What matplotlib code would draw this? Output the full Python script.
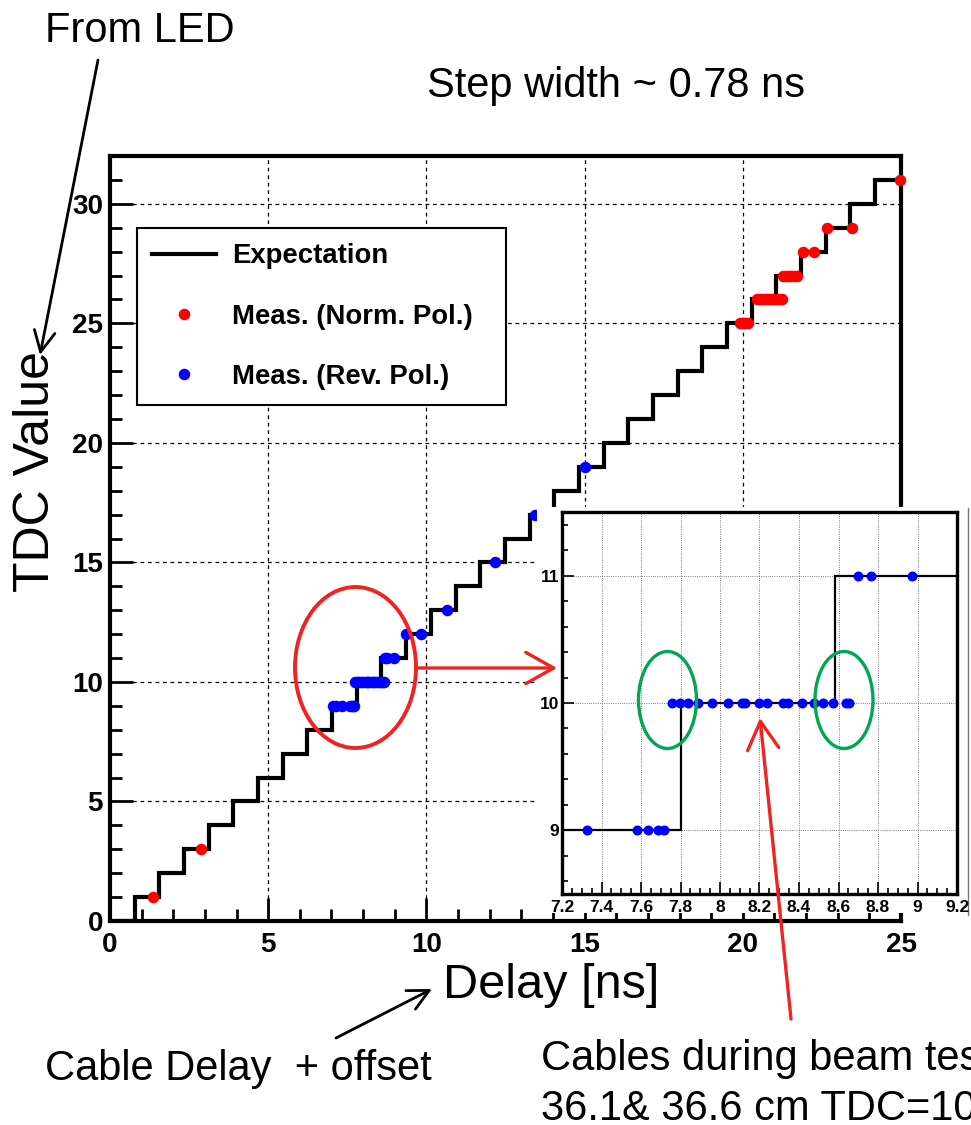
import matplotlib.pyplot as plt
from matplotlib.patches import Ellipse, FancyArrowPatch, Rectangle
from matplotlib.lines import Line2D
from matplotlib.ticker import MultipleLocator, FormatStrFormatter

plt.rcParams['font.family'] = ['Liberation Sans', 'DejaVu Sans']

# expectation: step edges [ns] and TDC level on each step
step_edges = [0.0, 0.78, 1.56, 2.34, 3.12, 3.90, 4.68, 5.46, 6.24, 7.02, 7.80,
              8.58, 9.36, 10.14, 10.92, 11.70, 12.48, 13.26, 14.04, 14.82,
              15.60, 16.38, 17.16, 17.94, 18.72, 19.50, 20.28, 21.06, 21.84,
              22.62, 23.40, 24.18, 25.0]
tdc_levels = [0, 1, 2, 3, 4, 5, 6, 7, 8, 9, 10, 11, 12, 13, 14, 15, 16, 17,
              18, 19, 20, 21, 22, 23, 24, 25, 26, 27, 28, 29, 30, 31]

# measurements, normal polarity
norm_delay = [1.37, 2.875,
              19.91, 20.00, 20.08, 20.17,
              20.46, 20.55, 20.63, 20.72, 20.80, 20.88, 20.97, 21.05, 21.14, 21.24,
              21.27, 21.36, 21.45, 21.53, 21.62, 21.70,
              21.89, 22.25, 22.66, 23.46, 24.96]
norm_tdc = [1, 3,
            25, 25, 25, 25,
            26, 26, 26, 26, 26, 26, 26, 26, 26, 26,
            27, 27, 27, 27, 27, 27,
            28, 28, 29, 29, 31]

# measurements, reversed polarity
rev_delay = [7.06, 7.13, 7.326, 7.579, 7.635, 7.685, 7.717,
             7.759, 7.798, 7.837, 7.891, 7.960, 8.039, 8.110, 8.127, 8.197,
             8.236, 8.320, 8.346, 8.413, 8.475, 8.523, 8.573, 8.637, 8.654,
             8.700, 8.764, 8.974,
             9.35, 9.82, 10.64, 12.18, 13.43, 15.00]
rev_tdc = [9, 9, 9, 9, 9, 9, 9,
           10, 10, 10, 10, 10, 10, 10, 10, 10,
           10, 10, 10, 10, 10, 10, 10, 10, 10,
           11, 11, 11,
           12, 12, 13, 15, 17, 19]

W, H = 971, 1125
fig = plt.figure(figsize=(W / 100, H / 100), dpi=100)


def fx(x):
    return x / W


def fy(y):
    return 1 - y / H


RED = '#ff0000'
BLUE = '#0000ff'
ARROW_RED = '#f02222'
GREEN = '#00a651'

# main plot
ax = fig.add_axes([fx(110), fy(921), (901 - 110) / W, (921 - 156) / H])
ax.stairs(tdc_levels, step_edges, baseline=None, color='black', lw=3,
          label='Expectation', zorder=3)
ax.plot(norm_delay, norm_tdc, 'o', color=RED, ms=8.3, mew=0,
        label='Meas. (Norm. Pol.)', zorder=4, clip_on=False)
ax.plot(rev_delay, rev_tdc, 'o', color=BLUE, ms=8.3, mew=0,
        label='Meas. (Rev. Pol.)', zorder=4, clip_on=False)

ax.set_xlim(0, 25)
ax.set_ylim(0, 32)
ax.xaxis.set_major_locator(MultipleLocator(5))
ax.xaxis.set_minor_locator(MultipleLocator(1))
ax.yaxis.set_major_locator(MultipleLocator(5))
ax.yaxis.set_minor_locator(MultipleLocator(1))
ax.grid(True, which='major', color='black', lw=0.9, ls=(0, (3, 3)))
ax.tick_params(which='both', direction='in', width=2, top=False, right=False,
               labelsize=20)
ax.tick_params(which='major', length=16.5)
ax.tick_params(which='minor', length=8.5)
ax.tick_params(axis='x', pad=8)
ax.tick_params(axis='y', pad=5)
for lab in ax.get_xticklabels() + ax.get_yticklabels():
    lab.set_fontweight('bold')
for sp in ax.spines.values():
    sp.set_linewidth(3)

leg = ax.legend(loc='upper left',
                bbox_to_anchor=(fx(137), fy(404), (506 - 137) / W, (404 - 228) / H),
                bbox_transform=fig.transFigure, mode='expand', borderaxespad=0,
                prop=dict(weight='bold', size=19.8), handlelength=2.33,
                handletextpad=0.58, labelspacing=1.25, borderpad=0.55,
                fancybox=False, edgecolor='black', framealpha=1)
leg.get_frame().set_linewidth(1.5)

# white box behind the zoomed inset
fig.add_artist(Rectangle((fx(537), fy(913)), (971 - 537) / W, (913 - 507) / H,
                         transform=fig.transFigure, fc='white', ec='none',
                         zorder=1))
fig.add_artist(Line2D([fx(968), fx(968)], [fy(508), fy(915)],
                      transform=fig.transFigure, color='#777777', lw=1,
                      zorder=1.5))

# inset
axi = fig.add_axes([fx(562), fy(894), (957 - 562) / W, (894 - 512) / H])
axi.set_zorder(2)
axi.stairs(tdc_levels, step_edges, baseline=None, color='black', lw=1.6,
           zorder=3)
axi.plot(rev_delay, rev_tdc, 'o', color=BLUE, ms=7.2, mew=0, zorder=4)
axi.set_xlim(7.2, 9.2)
axi.set_ylim(8.5, 11.5)
axi.xaxis.set_major_locator(MultipleLocator(0.2))
axi.xaxis.set_minor_locator(MultipleLocator(0.05))
axi.xaxis.set_major_formatter(FormatStrFormatter('%g'))
axi.yaxis.set_major_locator(MultipleLocator(1))
axi.yaxis.set_minor_locator(MultipleLocator(0.2))
axi.grid(True, which='major', color='#555555', lw=0.6, ls=':')
axi.tick_params(which='both', direction='in', width=1.2, top=False,
                right=False, labelsize=12.5)
axi.tick_params(which='major', length=8.5)
axi.tick_params(which='minor', length=4)
axi.tick_params(axis='x', pad=4)
axi.tick_params(axis='y', pad=2)
for lab in axi.get_xticklabels() + axi.get_yticklabels():
    lab.set_fontweight('bold')
for sp in axi.spines.values():
    sp.set_linewidth(2.4)

# axis titles
fig.text(fx(443), fy(998), 'Delay [ns]', fontsize=35, va='baseline', ha='left')
fig.text(fx(36), fy(472), 'TDC Value', fontsize=36, rotation=90,
         va='center', ha='center')

# annotations
fig.text(fx(45), fy(42), 'From LED', fontsize=30, va='baseline')
fig.text(fx(427), fy(97), 'Step width ~ 0.78 ns', fontsize=30, va='baseline')
fig.text(fx(45), fy(1080), 'Cable Delay  + offset', fontsize=30, va='baseline')
fig.text(fx(541), fy(1070), 'Cables during beam test', fontsize=30,
         va='baseline')
fig.text(fx(541), fy(1120), '36.1& 36.6 cm TDC=10', fontsize=30,
         va='baseline')


def arrow(p0, p1, color, lw, hl=0.6, hw=0.3, ms=25):
    fig.add_artist(FancyArrowPatch(
        (fx(p0[0]), fy(p0[1])), (fx(p1[0]), fy(p1[1])),
        transform=fig.transFigure, arrowstyle=f'->,head_length={hl},head_width={hw}',
        mutation_scale=ms, color=color, lw=lw, shrinkA=0, shrinkB=0, zorder=5))


arrow((98, 60), (40, 355), 'black', 2)
arrow((336, 1038), (432, 989), 'black', 2)
arrow((416, 668), (557, 668), ARROW_RED, 2.4, hl=0.8, hw=0.45)
arrow((791, 1019), (760, 718), ARROW_RED, 2.4, hl=0.8, hw=0.45)


def ellipse(cx, cy, w, h, color, lw):
    fig.add_artist(Ellipse((cx / 100, (H - cy) / 100), w / 100, h / 100,
                           transform=fig.dpi_scale_trans, fill=False,
                           ec=color, lw=lw, zorder=5))


ellipse(355.5, 667.5, 121, 161, ARROW_RED, 2.8)
ellipse(667.5, 700, 58, 97, GREEN, 2.4)
ellipse(844, 700, 58, 97, GREEN, 2.4)

fig.savefig('out.png', dpi=100)
